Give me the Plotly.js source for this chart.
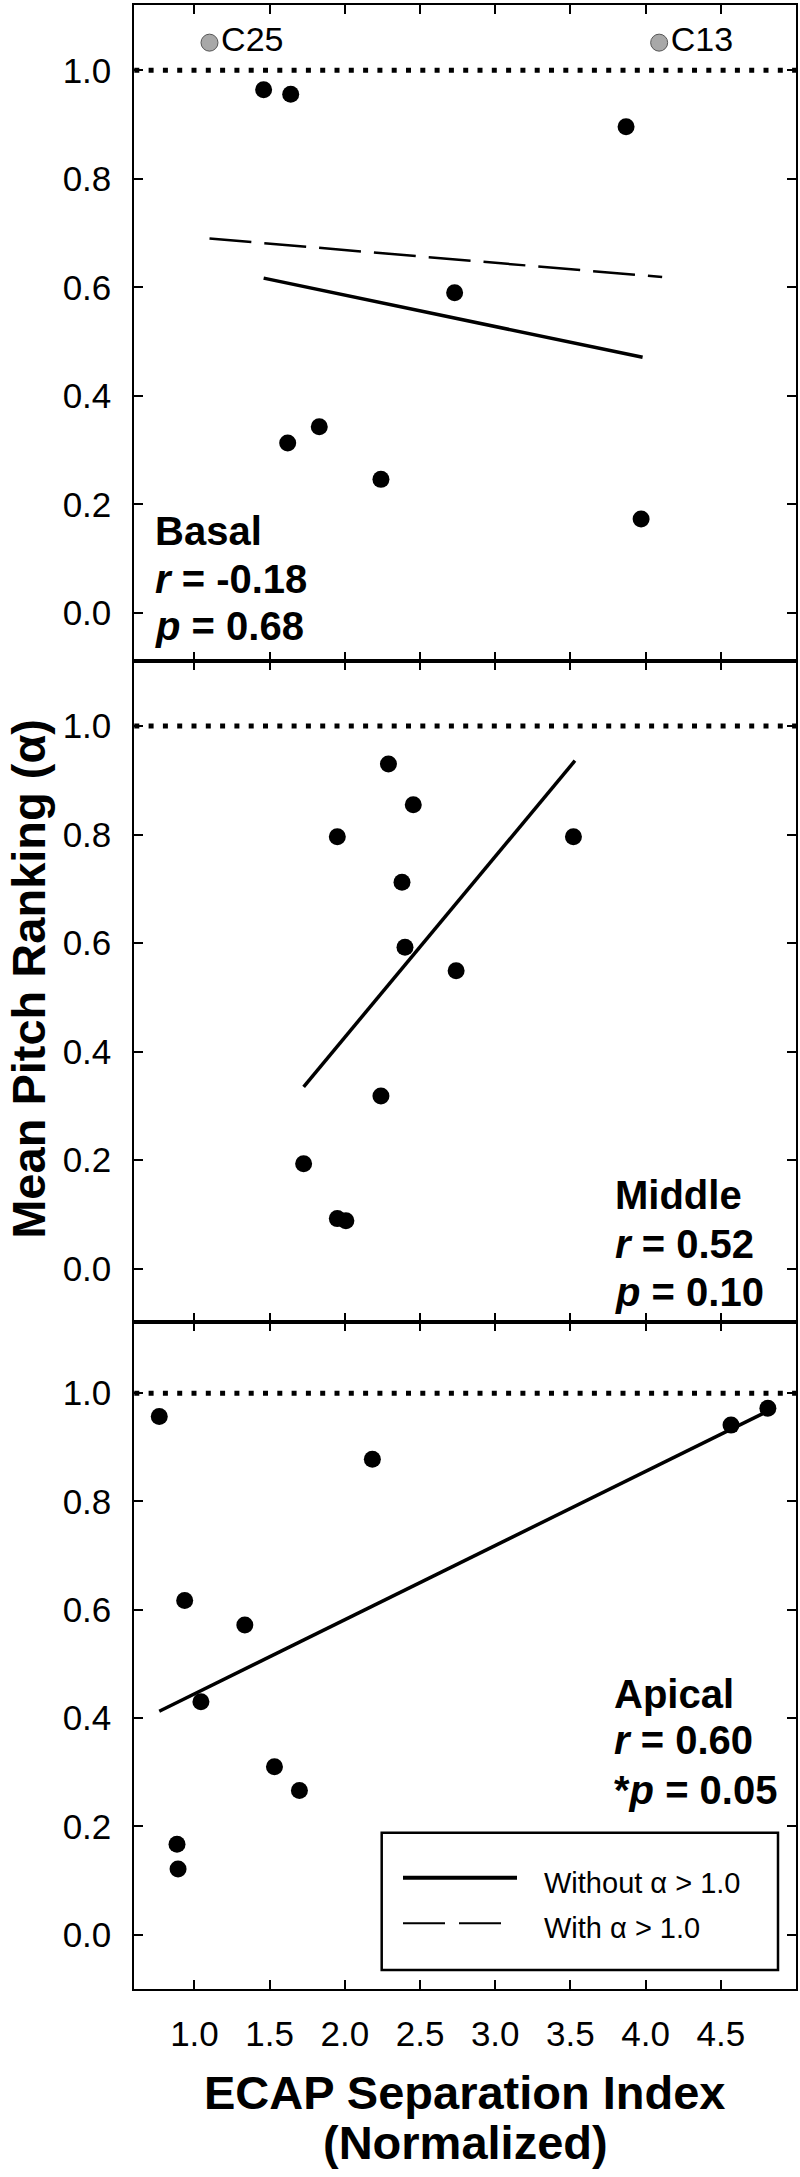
<!DOCTYPE html>
<html>
<head>
<meta charset="utf-8">
<script src="https://cdn.plot.ly/plotly-3.0.1.min.js"></script>
<style>
  html, body { margin: 0; padding: 0; background: #fff; }
  #chart { width: 800px; height: 2177px; }
</style>
</head>
<body>
<div id="chart"></div>
<script>
// ---------------- data ----------------
// Basal region
const basalX = [1.46, 1.64, 3.87, 2.73, 1.62, 1.83, 2.24, 3.97];
const basalY = [0.964, 0.956, 0.896, 0.590, 0.313, 0.343, 0.246, 0.173];
// Basal subjects with alpha > 1.0 (plotted above the reference line)
const basalOutX = [1.10, 4.09];
const basalOutY = [1.051, 1.051];
const basalOutLabels = ['C25', 'C13'];
// Basal regression lines (end points)
const basalFitX = [1.46, 3.98];
const basalFitY = [0.617, 0.471];
const basalFitAllX = [1.10, 4.11];
const basalFitAllY = [0.690, 0.619];

// Middle region
const middleX = [2.29, 2.455, 1.95, 3.52, 2.38, 2.40, 2.74, 2.24, 1.726, 1.95, 2.007];
const middleY = [0.930, 0.855, 0.796, 0.796, 0.712, 0.592, 0.549, 0.318, 0.193, 0.092, 0.088];
const middleFitX = [1.726, 3.53];
const middleFitY = [0.335, 0.936];

// Apical region
const apicalX = [0.766, 2.183, 4.568, 4.813, 0.935, 1.335, 1.043, 1.532, 1.698, 0.884, 0.891];
const apicalY = [0.957, 0.878, 0.941, 0.972, 0.617, 0.572, 0.430, 0.310, 0.266, 0.167, 0.121];
const apicalFitX = [0.766, 4.813];
const apicalFitY = [0.4125, 0.967];

// reference level (alpha = 1.0)
const refLevel = 1.0;

// ticks
const xTickVals = [1.0, 1.5, 2.0, 2.5, 3.0, 3.5, 4.0, 4.5];
const yTickVals = [0.0, 0.2, 0.4, 0.6, 0.8, 1.0];

// texts
const regionNames = ['Basal', 'Middle', 'Apical'];
const rValues = ['-0.18', '0.52', '0.60'];
const pValues = ['0.68', '0.10', '0.05'];
const pPrefix = ['', '', '*'];
const legendLabels = ['Without \u03b1 > 1.0', 'With \u03b1 > 1.0'];
const xTitleLines = ['ECAP Separation Index', '(Normalized)'];
const yTitle = 'Mean Pitch Ranking (\u03b1)';

// ---------------- layout helpers ----------------
const FONT = 'Liberation Sans, Arial, Helvetica, sans-serif';
const W = 800, H = 2177;
const px = v => v / W;
const py = v => 1 - v / H;

const xDomain = [0.16788, 0.995];
const yDomains = [[0.69637, 0.997703], [0.39288, 0.69637], [0.086587, 0.39288]];
const yRanges = [[-0.0888, 1.1204], [-0.098, 1.1198], [-0.0995, 1.132]];
const TICK_FONT = 35;

function xAxis(anchor, showLabels) {
  return {
    domain: xDomain, range: [0.6, 5.0], anchor: anchor,
    tickmode: 'array', tickvals: xTickVals, tickformat: '.1f',
    ticks: 'inside', ticklen: 9, tickwidth: 2, tickcolor: '#000',
    showline: true, linewidth: 2, linecolor: '#000', mirror: 'ticks',
    showgrid: false, zeroline: false, showticklabels: showLabels,
    tickfont: {family: FONT, size: TICK_FONT, color: '#000'},
    ticklabelstandoff: 13
  };
}
function yAxis(anchor, i) {
  return {
    domain: yDomains[i], range: yRanges[i], anchor: anchor,
    tickmode: 'array', tickvals: yTickVals, tickformat: '.1f',
    ticks: 'inside', ticklen: 9, tickwidth: 2, tickcolor: '#000',
    showline: true, linewidth: 2, linecolor: '#000', mirror: 'ticks',
    showgrid: false, zeroline: false,
    tickfont: {family: FONT, size: TICK_FONT, color: '#000'},
    ticklabelstandoff: 14
  };
}

const dotMarker = {color: '#000', size: 17, line: {width: 0}};
const solidLine = {color: '#000', width: 3.5};
const dashLine = {color: '#000', width: 2.5, dash: '42px,13px'};

const traces = [
  // Basal
  {x: basalFitAllX, y: basalFitAllY, xaxis: 'x', yaxis: 'y', mode: 'lines', line: dashLine, name: legendLabels[1], hoverinfo: 'skip'},
  {x: basalFitX, y: basalFitY, xaxis: 'x', yaxis: 'y', mode: 'lines', line: solidLine, name: legendLabels[0], hoverinfo: 'skip'},
  {x: basalX, y: basalY, xaxis: 'x', yaxis: 'y', mode: 'markers', marker: dotMarker, name: 'Basal'},
  {x: basalOutX, y: basalOutY, xaxis: 'x', yaxis: 'y', mode: 'markers+text',
   text: basalOutLabels, textposition: 'middle right',
   textfont: {family: FONT, size: 34, color: '#000'},
   marker: {color: '#a8a8a8', size: 17, line: {color: '#555', width: 1}}, name: 'Basal \u03b1 > 1.0'},
  // Middle
  {x: middleFitX, y: middleFitY, xaxis: 'x2', yaxis: 'y2', mode: 'lines', line: solidLine, name: legendLabels[0], hoverinfo: 'skip'},
  {x: middleX, y: middleY, xaxis: 'x2', yaxis: 'y2', mode: 'markers', marker: dotMarker, name: 'Middle'},
  // Apical
  {x: apicalFitX, y: apicalFitY, xaxis: 'x3', yaxis: 'y3', mode: 'lines', line: solidLine, name: legendLabels[0], hoverinfo: 'skip'},
  {x: apicalX, y: apicalY, xaxis: 'x3', yaxis: 'y3', mode: 'markers', marker: dotMarker, name: 'Apical'}
];

// reference dotted lines at alpha = 1.0
const shapes = [];
[['x', 'y'], ['x2', 'y2'], ['x3', 'y3']].forEach(([xa, ya]) => {
  shapes.push({type: 'line', layer: 'below', xref: xa + ' domain', x0: 0, x1: 1,
               yref: ya, y0: refLevel, y1: refLevel,
               line: {color: '#000', width: 5, dash: '5px,9.3px'}});
});
// legend box and sample lines
shapes.push({type: 'rect', xref: 'paper', yref: 'paper',
             x0: px(381.7), x1: px(778), y0: py(1970), y1: py(1832.7),
             line: {color: '#000', width: 2.5}, fillcolor: 'rgba(255,255,255,0)'});
shapes.push({type: 'line', xref: 'paper', yref: 'paper',
             x0: px(403), x1: px(517), y0: py(1877.7), y1: py(1877.7),
             line: {color: '#000', width: 4}});
shapes.push({type: 'line', xref: 'paper', yref: 'paper',
             x0: px(403), x1: px(501), y0: py(1923.3), y1: py(1923.3),
             line: {color: '#000', width: 2, dash: '42px,14px'}});

function ann(text, x, y, size, opts) {
  return Object.assign({
    text: text, xref: 'paper', yref: 'paper', x: px(x), y: py(y),
    xanchor: 'left', yanchor: 'middle', showarrow: false,
    font: {family: FONT, size: size, color: '#000'}
  }, opts || {});
}

const statPos = [
  {x: 153.3, base: [544, 591.7, 639]},
  {x: 613.3, base: [1208, 1256.7, 1305]},
  {x: 611.7, base: [1706.7, 1753, 1803]}
];
const annotations = [];
const SF = 40;
statPos.forEach((p, i) => {
  const c = p.base.map(b => b - 0.33 * SF);
  annotations.push(ann('<b>' + regionNames[i] + '</b>', p.x, c[0], SF));
  annotations.push(ann('<b><i>r</i> = ' + rValues[i] + '</b>', p.x, c[1], SF));
  annotations.push(ann('<b>' + pPrefix[i] + '<i>p</i> = ' + pValues[i] + '</b>', p.x, c[2], SF));
});
// legend texts
annotations.push(ann(legendLabels[0], 541.7, 1892.7 - 0.33 * 29, 29));
annotations.push(ann(legendLabels[1], 541.7, 1937.3 - 0.33 * 29, 29));
// axis titles
annotations.push(ann('<b>' + xTitleLines[0] + '</b>', 465, 2108 - 0.33 * 47, 47, {xanchor: 'center'}));
annotations.push(ann('<b>' + xTitleLines[1] + '</b>', 465, 2158 - 0.33 * 47, 47, {xanchor: 'center'}));
annotations.push(ann('<b>' + yTitle + '</b>', 27.8, 979, 47, {xanchor: 'center', textangle: -90}));

const layout = {
  width: W, height: H,
  margin: {l: 0, r: 0, t: 0, b: 0, pad: 0},
  paper_bgcolor: '#fff', plot_bgcolor: '#fff',
  showlegend: false,
  font: {family: FONT, size: TICK_FONT, color: '#000'},
  xaxis: xAxis('y', false),
  xaxis2: xAxis('y2', false),
  xaxis3: xAxis('y3', true),
  yaxis: yAxis('x', 0),
  yaxis2: yAxis('x2', 1),
  yaxis3: yAxis('x3', 2),
  shapes: shapes,
  annotations: annotations
};

Plotly.newPlot('chart', traces, layout, {displayModeBar: false, staticPlot: true});
</script>
</body>
</html>
